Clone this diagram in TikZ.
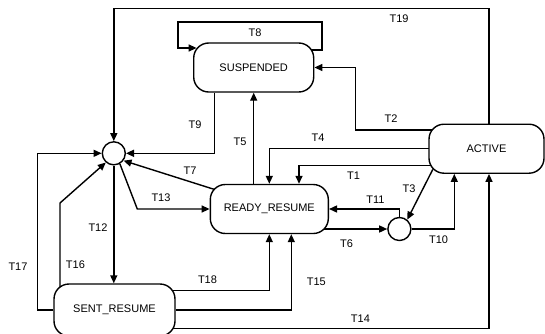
\documentclass[tikz,border=0pt]{standalone}
\usepackage{fontspec}
\setmainfont{Liberation Sans}
\usetikzlibrary{arrows.meta, backgrounds}

\begin{document}
\begin{tikzpicture}[x=1pt, y=-1pt]
    % Define styles for states, junctions and transitions
    \tikzset{
        state/.style={rectangle, rounded corners=15pt, draw=black, line width=1.4pt, fill=white, minimum height=49pt, font=\fontsize{11}{13}\selectfont},
        junction/.style={circle, draw=black, line width=1.4pt, fill=white, inner sep=0pt, minimum size=23pt},
        trans/.style={draw=black, line width=1.4pt, -{Triangle[length=8pt, width=7pt]}},
        lbl/.style={font=\fontsize{11}{13}\selectfont, inner sep=1pt}
    }
    \useasboundingbox (0,0) rectangle (545,333);

    % ==========================================
    % STATES AND JUNCTIONS
    % ==========================================
    \node[state, minimum width=120pt] (susp) at (253.7,67.5) {SUSPENDED};
    \node[state, minimum width=115pt] (active) at (486.5,148.7) {ACTIVE};
    \node[state, minimum width=118pt] (ready) at (269.3,209) {READY\_RESUME};
    \node[state, minimum width=121pt, minimum height=52pt] (sent) at (114.5,310) {SENT\_RESUME};
    \node[junction] (join) at (113.8,153.3) {};
    \node[junction] (merge) at (399.4,229) {};

    % bend points of the transitions
    \coordinate (c19) at (489,8.3);
    \coordinate (c8a) at (322,50);
    \coordinate (c8b) at (178,22);
    \coordinate (c8c) at (178,48);
    \coordinate (c2) at (355.6,130);
    \coordinate (c9) at (214.5,153.3);
    \coordinate (c1) at (299,165.5);
    \coordinate (c10) at (454.3,229);
    \coordinate (c13) at (137.3,209);
    \coordinate (c16) at (60,203);
    \coordinate (c17) at (37.3,153.3);
    \coordinate (c18) at (269.3,290.7);
    \coordinate (c15) at (291.3,310);
    \coordinate (c14) at (489,328.3);

    % ==========================================
    % TRANSITIONS
    % ==========================================
    \begin{scope}[on background layer]
        \draw[trans] (active.north -| c19) -- (c19) -| (join.north);                      % T19
        \draw[trans] ([xshift=-4pt]susp.east |- c8a) -- (c8a) |- (c8b) -- (c8c)
            -- ([xshift=3.6pt]susp.west |- c8c);                                          % T8
        \draw[trans] ([xshift=4pt]active.west |- c2) -- (c2) |- (susp.east);              % T2
        \draw[trans] (susp.south -| c9) |- (join.east);                                   % T9
        \draw[trans] (ready.north -| susp.south) -- (susp.south);                         % T5
        \draw[trans] ([xshift=4pt]active.west) -| (ready.north);                          % T4
        \draw[trans] ([xshift=4pt]active.west |- c1) -| (ready.north -| c1);              % T1
        \draw[trans] ([shift={(4.5pt,4.5pt)}]active.south west) -- (merge.50);            % T3
        \draw[trans] ([xshift=-6pt]ready.east |- merge.west) -- (merge.west);             % T6
        \draw[trans] (merge.north) |- (ready.east);                                       % T11
        \draw[trans] (merge.east) -| (active.south -| c10);                               % T10
        \draw[trans] ([shift={(6pt,-6pt)}]ready.north west) -- (join.-37);               % T7
        \draw[trans] (join.-60) -- (c13) -- (ready.west);                                 % T13
        \draw[trans] (join.south) -- (join.south |- sent.north);                          % T12
        \draw[trans] ([yshift=-6pt]sent.north -| c16) -- (c16) -- (join.229);             % T16
        \draw[trans] (sent.west) -| (c17) -- (join.west);                                 % T17
        \draw[trans] ([xshift=-6pt]sent.east |- c18) -| (ready.south);                   % T18
        \draw[trans] (sent.east |- c15) -| (ready.south -| c15);                          % T15
        \draw[trans] ([xshift=-10pt]sent.east |- c14) -| (active.south -| c14);           % T14
    \end{scope}

    % ==========================================
    % TRANSITION LABELS
    % ==========================================
    \foreach \n/\x/\y in {1/353.5/176, 2/391/119, 3/409/189, 4/318/138, 5/240/141.7,
        6/346.5/244, 7/190/170.5, 8/255/33, 9/195/125, 10/438.6/240, 11/375.4/199.3,
        12/98/227.7, 13/161/197.7, 14/360.4/319, 15/316.3/281.7, 16/75.4/264.3,
        17/18/266.7, 18/207.5/280, 19/399/19} {
        \node[lbl] (t\n) at (\x,\y) {T\n};
    }

\end{tikzpicture}
\end{document}
